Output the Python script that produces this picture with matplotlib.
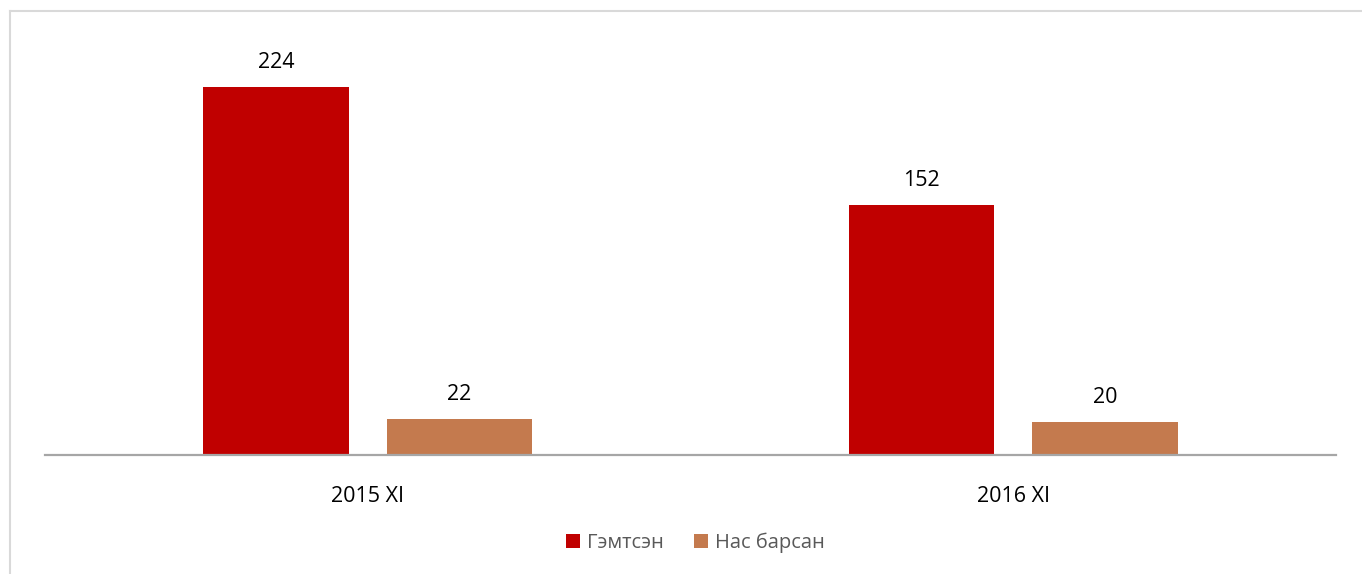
import numpy as np
import matplotlib.pyplot as plt

plt.rcParams['font.family'] = ['Open Sans', 'DejaVu Sans']

categories = ['2015 XI', '2016 XI']
injured = [224, 152]
died = [22, 20]
series_names = ['Гэмтсэн', 'Нас барсан']
colors = ['#C00000', '#C47A4E']

fig = plt.figure(figsize=(13.62, 5.74), dpi=100)
ax = fig.add_axes([45 / 1362, 1 - 455 / 574, 1291 / 1362, 435 / 574])

x = np.arange(len(categories))
w = 0.225
off = 0.142
b1 = ax.bar(x - off, injured, w, color=colors[0], label=series_names[0])
b2 = ax.bar(x + off, died, w, color=colors[1], label=series_names[1])

for bars, vals in ((b1, injured), (b2, died)):
    for r, v in zip(bars, vals):
        ax.annotate(str(v), (r.get_x() + r.get_width() / 2, v),
                    xytext=(0, 14), textcoords='offset pixels',
                    ha='center', va='bottom', fontsize=15.5, color='#000000')

ax.set_xlim(-0.5, 1.5)
ax.set_ylim(0, 264.7)
ax.set_yticks([])
ax.set_xticks(x)
ax.set_xticklabels(categories, fontsize=15.5)
ax.tick_params(axis='x', length=0, pad=22)
for s in ['top', 'right', 'left']:
    ax.spines[s].set_visible(False)
ax.spines['bottom'].set_color('#A6A6A6')
ax.spines['bottom'].set_linewidth(1.6)

ax.legend(loc='center', bbox_to_anchor=(695 / 1362, 1 - 543 / 574),
          bbox_transform=fig.transFigure, ncol=2, frameon=False,
          fontsize=14.5, labelcolor='#595959', handlelength=0.7,
          handleheight=0.7, handletextpad=0.35, columnspacing=1.5)

# chart frame (only top and left visible)
fig.add_artist(plt.Line2D([9.5 / 1362, 9.5 / 1362], [0, 1 - 10.5 / 574],
                          transform=fig.transFigure, color='#D9D9D9', lw=1.5))
fig.add_artist(plt.Line2D([9.5 / 1362, 1], [1 - 10.5 / 574, 1 - 10.5 / 574],
                          transform=fig.transFigure, color='#D9D9D9', lw=1.5))

fig.savefig('out.png', dpi=100)
